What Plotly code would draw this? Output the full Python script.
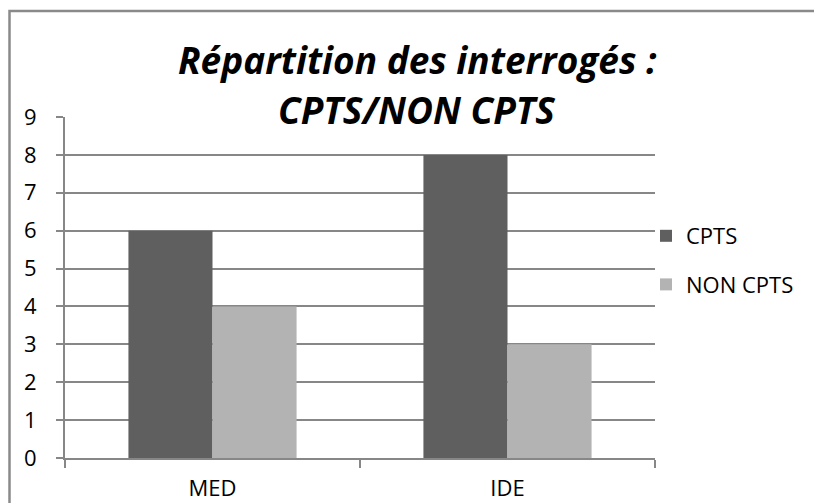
import plotly.graph_objects as go

categories = ["MED", "IDE"]
cpts = [6, 8]
non_cpts = [4, 3]
series_names = ["CPTS", "NON CPTS"]
y_ticks = [0, 1, 2, 3, 4, 5, 6, 7, 8, 9]
title_lines = ["Répartition des interrogés :", "CPTS/NON CPTS"]

W, H = 814, 503
L, R, T, B = 65, 159, 117, 45
pw, ph = W - L - R, H - T - B

def px(x):
    return (x - L) / pw

def py(y):
    return (H - B - y) / ph

FONT = "'Open Sans', 'Noto Sans', sans-serif"
GRID = "#878787"

fig = go.Figure()
fig.add_trace(go.Bar(x=categories, y=cpts, name=series_names[0], legendgroup="a",
                     marker=dict(color="#5f5f5f", line=dict(width=0))))
fig.add_trace(go.Bar(x=categories, y=non_cpts, name=series_names[1], legendgroup="b",
                     marker=dict(color="#b3b3b3", line=dict(width=0))))

fig.update_layout(
    width=W, height=H,
    margin=dict(l=L, r=R, t=T, b=B, autoexpand=False),
    paper_bgcolor="white", plot_bgcolor="white",
    barmode="group", bargap=0.43, bargroupgap=0,
    font=dict(family=FONT, size=22, color="#000000"),
    showlegend=True,
    legend=dict(x=px(646), y=py(215), xanchor="left", yanchor="top",
                font=dict(size=22), itemwidth=30, tracegroupgap=17,
                bgcolor="rgba(0,0,0,0)"),
    xaxis=dict(type="category", showgrid=False, showline=True, automargin=False,
               linecolor=GRID, linewidth=2, ticks="outside",
               tickson="boundaries", ticklen=8, tickcolor=GRID,
               tickwidth=1.5, ticklabelstandoff=10,
               tickfont=dict(size=22)),
    yaxis=dict(range=[0, 9], tickvals=y_ticks, showgrid=True, automargin=False,
               gridcolor=GRID, gridwidth=2, showline=True,
               linecolor=GRID, linewidth=2, ticks="outside",
               ticklen=7, tickcolor=GRID, tickwidth=1.5,
               ticklabelstandoff=15,
               zeroline=False, tickfont=dict(size=22)),
)

for line, yc in zip(title_lines, [60, 109]):
    fig.add_annotation(
        text="<b><i>" + line + "</i></b>",
        xref="paper", yref="paper", x=px(417), y=py(yc),
        xanchor="center", yanchor="middle", showarrow=False,
        font=dict(family=FONT, size=37, color="#000000"),
    )

fig.add_shape(type="rect", xref="paper", yref="paper",
              x0=px(9.5), x1=px(840), y0=py(11), y1=py(540),
              line=dict(color="#8a8a8a", width=2.5), fillcolor="rgba(0,0,0,0)",
              layer="below")

fig.write_html("out.html", config={"displayModeBar": False},
               post_script="document.body.style.margin='0';document.body.style.overflow='hidden';")
